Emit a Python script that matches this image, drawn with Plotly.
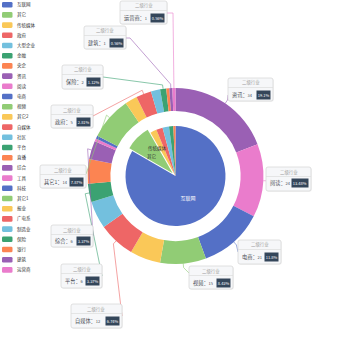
import math
import plotly.graph_objects as go

W = H = 350
FONT = "Noto Sans CJK SC"
palette = ['#5470c6', '#91cc75', '#fac858', '#ee6666', '#73c0de',
           '#3ba272', '#fc8452', '#9a60b4', '#ea7ccc']

# ---------------- data ----------------
inner_names = ['互联网', '其它', '传统媒体', '政府', '大型企业', '金融', '央企']
inner_values = [120, 12, 3, 3, 3, 2, 1]

outer_names = ['资讯', '阅读', '电商', '视频', '其它2', '自媒体', '社区', '平台', '直播',
               '综合', '工具', '科技', '其它1', '报业', '政府', '广电系', '制造业',
               '保险', '银行', '建筑', '运营商']
outer_values = [34, 24, 21, 15, 10, 12, 9, 6, 8, 6, 1, 1, 14, 4, 5, 0, 3, 2, 1, 1, 1]

label_header = '二级行业'
labelled = ['资讯', '阅读', '电商', '视频', '自媒体', '平台', '综合', '其它1',
            '政府', '保险', '建筑', '运营商']
inner_labelled = ['传统媒体', '其它']

# ---------------- layout constants (pixels) ----------------
CX, CY = 175.5, 176.0
R_OUT = 88.0
HOLE = 0.74
R_PIE = 50.0
PULL = 0.08

legend_names = []
for n in inner_names + outer_names:
    if n not in legend_names:
        legend_names.append(n)
color_of = {n: palette[i % len(palette)] for i, n in enumerate(legend_names)}


def px(x):
    return x / W


def py(y):
    return 1 - y / H


def rrect_path(x0, y0, x1, y1, r):
    pts = [
        f"M{px(x0 + r)},{py(y0)}", f"L{px(x1 - r)},{py(y0)}", f"Q{px(x1)},{py(y0)} {px(x1)},{py(y0 + r)}",
        f"L{px(x1)},{py(y1 - r)}", f"Q{px(x1)},{py(y1)} {px(x1 - r)},{py(y1)}",
        f"L{px(x0 + r)},{py(y1)}", f"Q{px(x0)},{py(y1)} {px(x0)},{py(y1 - r)}",
        f"L{px(x0)},{py(y0 + r)}", f"Q{px(x0)},{py(y0)} {px(x0 + r)},{py(y0)}", "Z"]
    return " ".join(pts)


fig = go.Figure()

# inner pie
d_in = R_PIE * (1 + PULL)
fig.add_trace(go.Pie(
    labels=inner_names, values=inner_values, sort=False, direction='clockwise', rotation=0,
    marker=dict(colors=[color_of[n] for n in inner_names]),
    pull=[PULL if n == '其它' else 0 for n in inner_names],
    text=[n if n == '互联网' else '' for n in inner_names],
    textinfo='text', textposition='inside', insidetextorientation='horizontal',
    insidetextfont=dict(size=5, color='white', family=FONT),
    domain=dict(x=[px(CX - d_in), px(CX + d_in)], y=[py(CY + d_in), py(CY - d_in)]),
    hoverinfo='skip', showlegend=False,
))

# outer ring
fig.add_trace(go.Pie(
    labels=outer_names, values=outer_values, sort=False, direction='clockwise', rotation=0,
    hole=HOLE, marker=dict(colors=[color_of[n] for n in outer_names]),
    textinfo='none',
    domain=dict(x=[px(CX - R_OUT), px(CX + R_OUT)], y=[py(CY + R_OUT), py(CY - R_OUT)]),
    hoverinfo='skip', showlegend=False,
))

shapes = []
annotations = []

# ---------------- label boxes ----------------
box_pos = {
    '运营商': (120, 1, 167, 24),
    '建筑': (84, 26, 126, 49),
    '保险': (62, 65, 103, 89),
    '政府': (51, 105, 93, 128),
    '其它1': (40, 165, 86, 188),
    '综合': (51, 225, 93, 247),
    '平台': (61, 264, 102, 288),
    '自媒体': (71, 304, 122, 328),
    '视频': (189, 266, 233, 289),
    '电商': (238, 240, 281, 264),
    '阅读': (266, 167, 311, 191),
    '资讯': (228, 78, 273, 101),
}
line_pts = {
    '运营商': [(173, 13), (167, 13)],
    '建筑': [(130, 38), (126, 38)],
    '保险': [(103, 77)],
    '政府': [(93, 116)],
    '其它1': [(86, 174)],
    '综合': [(93, 236)],
    '平台': [(102, 276)],
    '自媒体': [(122, 316)],
    '视频': [(189, 273)],
    '电商': [(238, 252)],
    '阅读': [(266, 180)],
    '资讯': [(228, 95)],
}

total = sum(outer_values)
cum = 0
mid_angle = {}
for n, v in zip(outer_names, outer_values):
    mid_angle[n] = (cum + v / 2) / total * 2 * math.pi
    cum += v


def pct(v):
    s = f"{v / total * 100:.2f}".rstrip('0').rstrip('.')
    return s + '%'


# leader lines
for n in labelled:
    a = mid_angle[n]
    p0 = (CX + R_OUT * math.sin(a), CY - R_OUT * math.cos(a))
    p1 = (CX + (R_OUT + 4) * math.sin(a), CY - (R_OUT + 4) * math.cos(a))
    pts = [p0, p1] + line_pts[n]
    path = "M" + " L".join(f"{px(x)},{py(y)}" for x, y in pts)
    shapes.append(dict(type='path', xref='paper', yref='paper', path=path,
                       line=dict(color=color_of[n], width=0.8), opacity=0.75))

# boxes
for n in labelled:
    v = outer_values[outer_names.index(n)]
    x0, y0, x1, y1 = box_pos[n]
    shapes.append(dict(type='path', xref='paper', yref='paper',
                       path=rrect_path(x0 + 0.8, y0 + 0.8, x1 + 0.8, y1 + 0.8, 2),
                       fillcolor='rgba(0,0,0,0.06)', line=dict(width=0)))
    shapes.append(dict(type='path', xref='paper', yref='paper', path=rrect_path(x0, y0, x1, y1, 2),
                       fillcolor='#f6f7f9', line=dict(color='#d4d4d4', width=0.7)))
    shapes.append(dict(type='line', xref='paper', yref='paper',
                       x0=px(x0), x1=px(x1), y0=py(y0 + 9.5), y1=py(y0 + 9.5),
                       line=dict(color='#dcdcdc', width=0.7)))
    annotations.append(dict(xref='paper', yref='paper', x=px((x0 + x1) / 2), y=py(y0 + 5),
                            text=label_header, showarrow=False, xanchor='center', yanchor='middle',
                            font=dict(size=4.4, color='#a0a0a0', family=FONT)))
    ry = y0 + 16.5
    annotations.append(dict(xref='paper', yref='paper', x=px(x0 + 2), y=py(ry),
                            text=f"{n}：<span style='font-size:4px'>{v}</span>",
                            showarrow=False, xanchor='left', yanchor='middle',
                            font=dict(size=5.2, color='#4C5058', family=FONT)))
    annotations.append(dict(xref='paper', yref='paper', x=px(x1 - 2.5), y=py(ry),
                            text=pct(v), showarrow=False, xanchor='right', yanchor='middle',
                            bgcolor='#34465a', borderpad=0.8,
                            font=dict(size=4, color='white', family=FONT)))

# inner pie small labels
inner_label_pos = {'传统媒体': (157, 148), '其它': (152, 156.5)}
for n in inner_labelled:
    x, y = inner_label_pos[n]
    annotations.append(dict(xref='paper', yref='paper', x=px(x), y=py(y), text=n,
                            showarrow=False, xanchor='center', yanchor='middle',
                            font=dict(size=4.5, color='#333', family=FONT)))

# ---------------- legend ----------------
for i, n in enumerate(legend_names):
    yc = 4.7 + 10.2 * i
    shapes.append(dict(type='path', xref='paper', yref='paper',
                       path=rrect_path(2, yc - 2.8, 12.5, yc + 2.8, 1.3),
                       fillcolor=color_of[n], line=dict(width=0)))
    annotations.append(dict(xref='paper', yref='paper', x=px(14.5), y=py(yc), text=n,
                            showarrow=False, xanchor='left', yanchor='middle',
                            font=dict(size=4.5, color='#333', family=FONT)))

fig.update_layout(
    width=W, height=H, autosize=False,
    margin=dict(l=0, r=0, t=0, b=0),
    paper_bgcolor='white', plot_bgcolor='white',
    shapes=shapes, annotations=annotations,
    font=dict(family=FONT),
    showlegend=False,
)

fig.write_html("out.html")
